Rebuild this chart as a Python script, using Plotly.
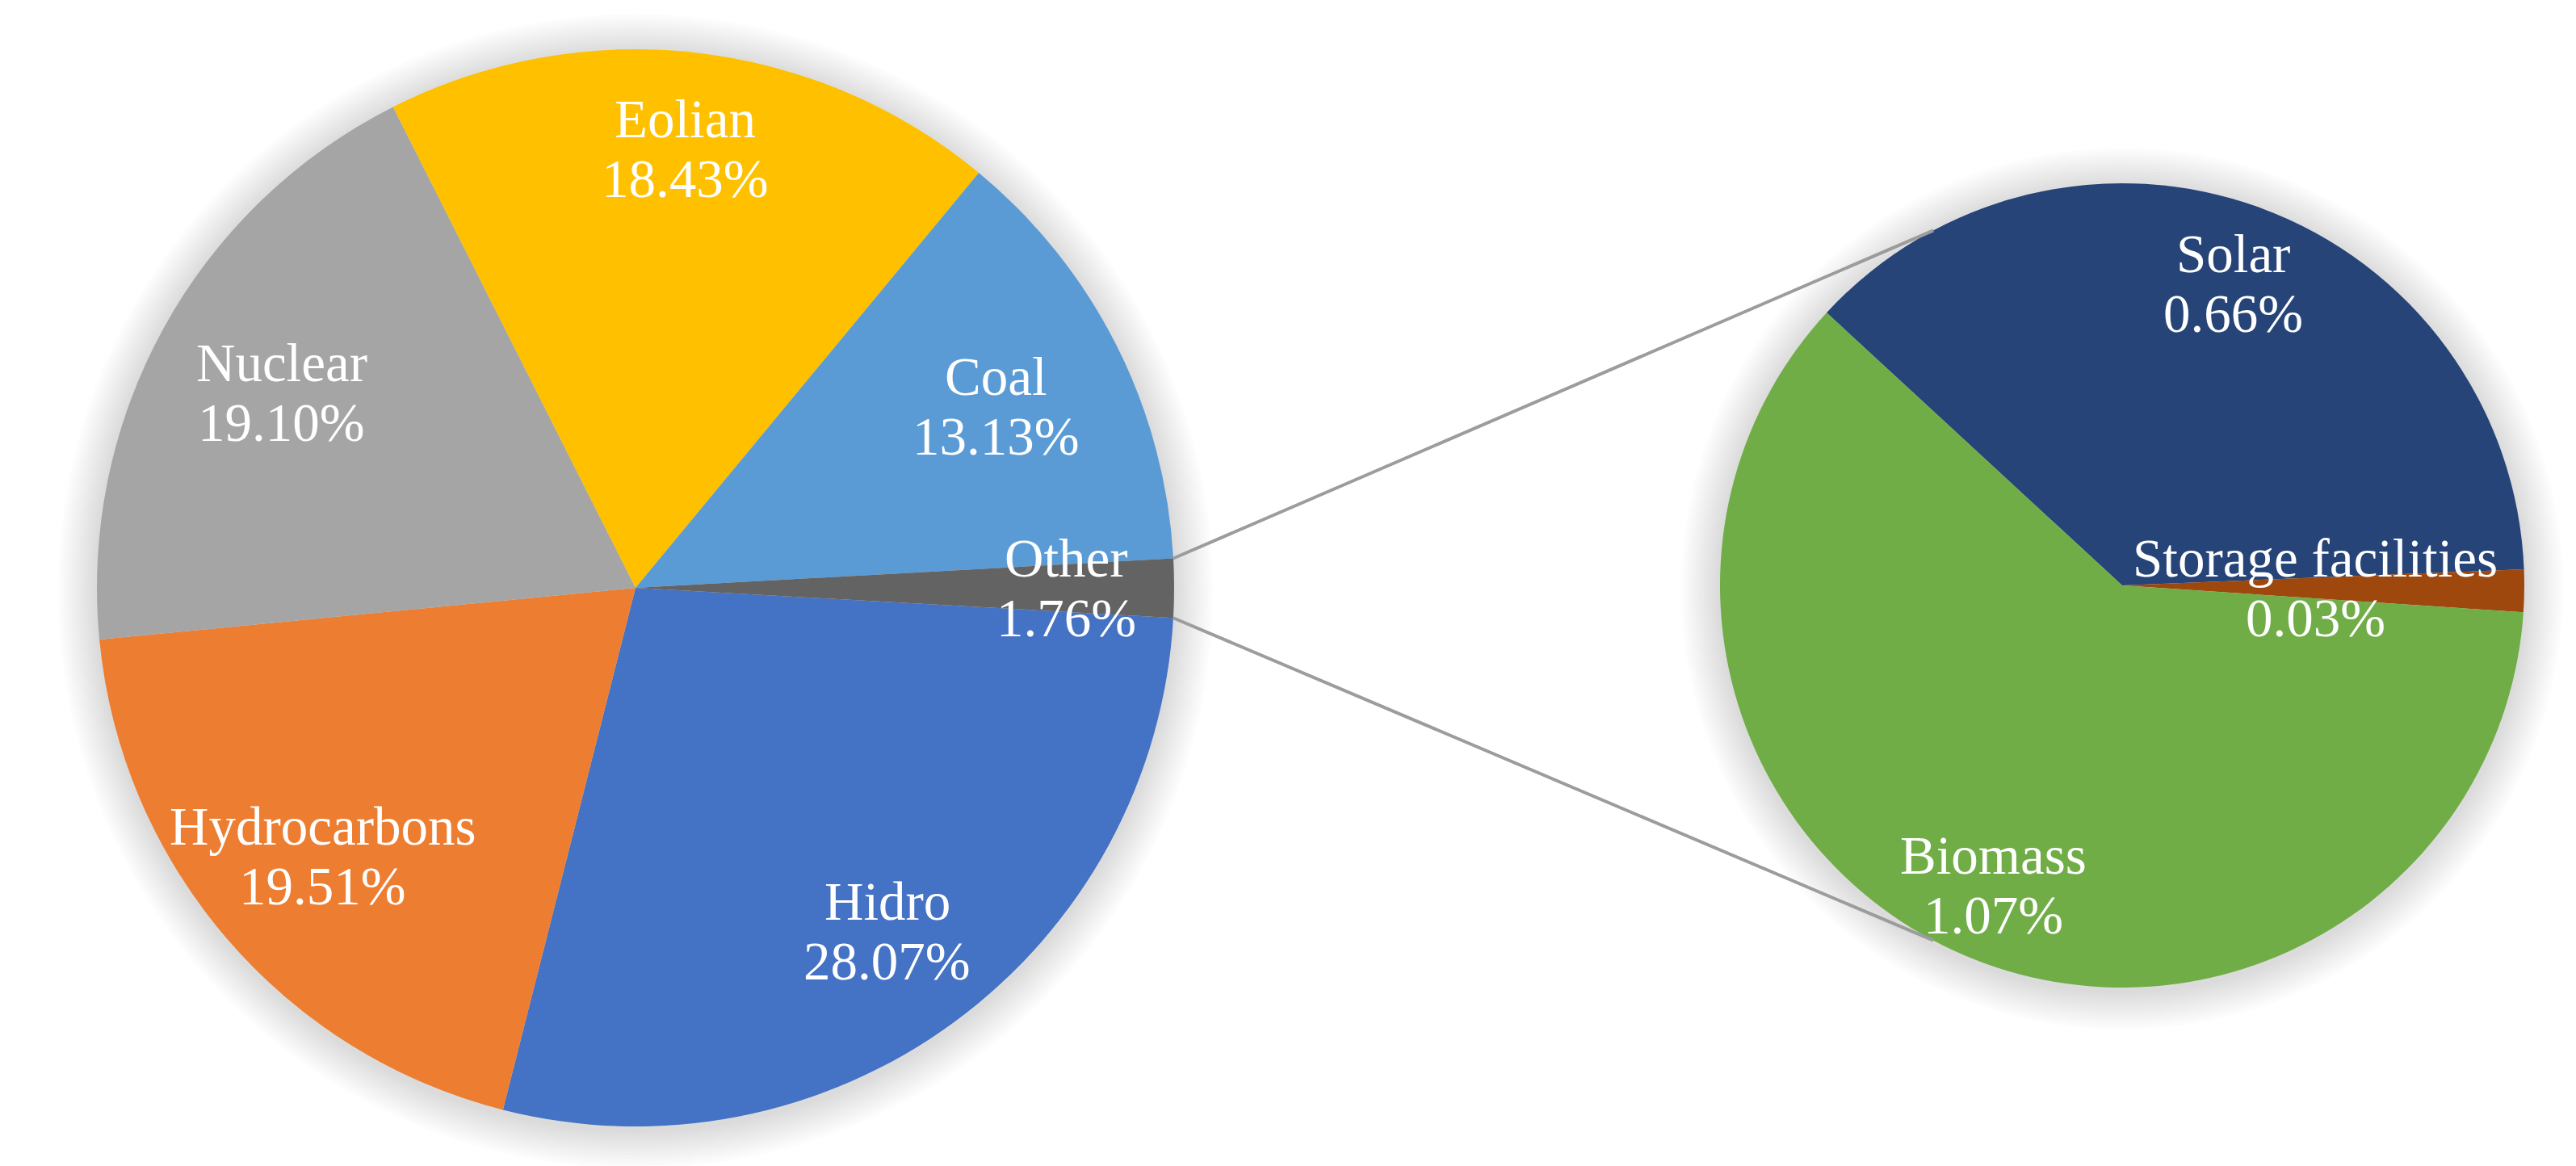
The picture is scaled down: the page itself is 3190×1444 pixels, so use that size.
import math
import plotly.graph_objects as go

# main pie
main_labels = ["Hidro", "Hydrocarbons", "Nuclear", "Eolian", "Coal", "Other"]
main_values = [28.07, 19.51, 19.10, 18.43, 13.13, 1.76]
main_colors = ["#4472C4", "#ED7D31", "#A5A5A5", "#FFC000", "#5B9BD5", "#636363"]

# breakdown of "Other"
sub_labels = ["Solar", "Storage facilities", "Biomass"]
sub_values = [0.66, 0.03, 1.07]
sub_colors = ["#264478", "#9E480E", "#70AD47"]

W, H = 3190, 1444
FONT = "Liberation Serif, Times New Roman, serif"

# geometry in pixels (centre x, centre y from top, radius)
main_geo = (779, 720, 667)
sub_geo = (2620, 717, 498)
main_rot = 93.2
sub_rot = -47.3
# how far out (fraction of radius) each label sits
main_label_r = [0.79, 0.765, 0.75, 0.82, 0.75, 0.80]
sub_label_r = [0.80, 0.48, 0.81]
# where the connector lines meet the second pie (deg away from 9 o'clock)
conn_ang = 62


def domain(geo):
    cx, cy, r = geo
    return dict(x=[(cx - r) / W, (cx + r) / W],
                y=[1 - (cy + r) / H, 1 - (cy - r) / H])


def slice_angle(values, rot, i, frac):
    total = sum(values)
    acc = sum(values[:i])
    return rot + (acc + frac * values[i]) / total * 360


def on_circle(geo, ang, f=1.0):
    cx, cy, r = geo
    a = math.radians(ang)
    return cx + f * r * math.sin(a), cy - f * r * math.cos(a)


fig = go.Figure()

# soft glow behind the pies
for geo in (main_geo, sub_geo):
    cx, cy, r = geo
    for k in range(12, 0, -1):
        rr = r + k * 4
        fig.add_shape(type="circle", xref="paper", yref="paper", layer="below",
                      x0=(cx - rr) / W, x1=(cx + rr) / W,
                      y0=1 - (cy + rr + 4) / H, y1=1 - (cy - rr + 4) / H,
                      fillcolor="rgba(0,0,0,0.013)", line=dict(width=0))

fig.add_trace(go.Pie(labels=main_labels, values=main_values, sort=False,
                     direction="clockwise", rotation=main_rot,
                     marker=dict(colors=main_colors, line=dict(width=0)),
                     textinfo="none", domain=domain(main_geo), showlegend=False))
fig.add_trace(go.Pie(labels=sub_labels, values=sub_values, sort=False,
                     direction="clockwise", rotation=sub_rot,
                     marker=dict(colors=sub_colors, line=dict(width=0)),
                     textinfo="none", domain=domain(sub_geo), showlegend=False))

# labels: name above, percentage below
for geo, labels, values, rot, fr in [(main_geo, main_labels, main_values, main_rot, main_label_r),
                                     (sub_geo, sub_labels, sub_values, sub_rot, sub_label_r)]:
    for i, (lab, v) in enumerate(zip(labels, values)):
        px, py = on_circle(geo, slice_angle(values, rot, i, 0.5), fr[i])
        for txt, shift in [(lab, 37), (f"{v:.2f}%", -37)]:
            fig.add_annotation(x=px / W, y=1 - py / H, xref="paper", yref="paper",
                               text=txt, showarrow=False, yshift=shift,
                               xanchor="center", yanchor="middle",
                               font=dict(family=FONT, size=67, color="white"))

# connector lines from the edges of "Other" to the second pie
other = len(main_values) - 1
for frac, side in [(0, 1), (1, -1)]:
    px, py = on_circle(main_geo, slice_angle(main_values, main_rot, other, frac))
    tx, ty = on_circle(sub_geo, 270 + side * conn_ang)
    fig.add_shape(type="line", xref="paper", yref="paper",
                  x0=px / W, y0=1 - py / H, x1=tx / W, y1=1 - ty / H,
                  line=dict(color="#9C9C9C", width=4))

fig.update_layout(width=W, height=H, margin=dict(l=0, r=0, t=0, b=0),
                  paper_bgcolor="white", plot_bgcolor="white")

fig.write_html("out.html")
